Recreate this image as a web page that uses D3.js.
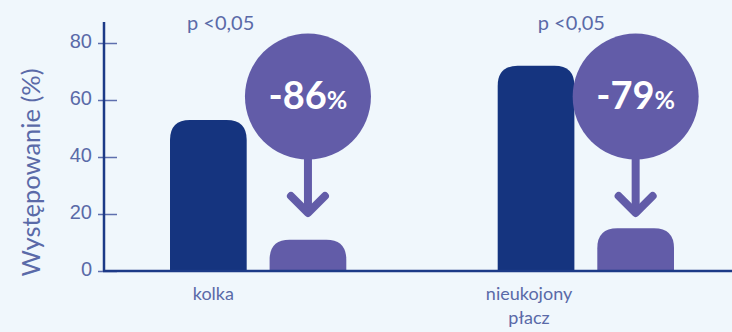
<!DOCTYPE html>
<html>
<head>
<meta charset="utf-8">
<script src="https://cdn.jsdelivr.net/npm/d3@7"></script>
<style>
  html, body { margin: 0; padding: 0; background: #f0f7fc; }
  svg { display: block; font-family: "Lato", "Open Sans", sans-serif; }
</style>
</head>
<body>
<div id="chart"></div>
<script>
// data
const categories = ["kolka", "nieukojony płacz"];
const series = ["przed", "po"];
const beforeValues = [53, 72];
const afterValues = [11, 15];
const reductionLabels = ["-86", "-79"];
const pLabels = ["p <0,05", "p <0,05"];
const yTicks = [0, 20, 40, 60, 80];

const W = 732, H = 332;
const colors = { dark: "#15347f", purple: "#625ca8", axis: "#1c3a87", text: "#5a6aa8", tick: "#5e6fae" };

const svg = d3.select("#chart").append("svg")
    .attr("width", W)
    .attr("height", H);

svg.append("rect").attr("width", W).attr("height", H).attr("fill", "#f0f7fc");

// scales
const y = d3.scaleLinear().domain([0, 80]).range([271, 43]);
const x0 = d3.scaleBand().domain(categories).range([170, 674]).paddingInner(0.462);
const x1 = d3.scaleBand().domain(series).range([0, x0.bandwidth()]).paddingInner(0.23);

// y axis
const yAxis = svg.append("g")
    .attr("transform", "translate(104,0)")
    .call(d3.axisLeft(y).tickValues(yTicks).tickSize(6).tickPadding(6));
yAxis.select(".domain").remove();
yAxis.selectAll(".tick line")
    .attr("x1", -6).attr("x2", 13)
    .attr("stroke", colors.tick).attr("stroke-width", 1.5);
yAxis.selectAll(".tick text")
    .attr("x", -12)
    .attr("dy", "0.2em")
    .attr("fill", colors.text)
    .style("font-size", "20px");

svg.append("line")
    .attr("x1", 104).attr("x2", 104)
    .attr("y1", 22).attr("y2", y(0))
    .attr("stroke", colors.axis).attr("stroke-width", 2.5);

svg.append("text")
    .attr("transform", `translate(40,${(68 + 277) / 2}) rotate(-90)`)
    .attr("text-anchor", "middle")
    .attr("fill", colors.text)
    .style("font-size", "25.5px")
    .text("Występowanie (%)");

// rounded-top bar path
function topRounded(x, yTop, w, h, r) {
    r = Math.min(r, w / 2, h);
    return `M${x},${yTop + h}V${yTop + r}Q${x},${yTop} ${x + r},${yTop}H${x + w - r}Q${x + w},${yTop} ${x + w},${yTop + r}V${yTop + h}Z`;
}

const rows = categories.map((c, i) => ({
    cat: c, before: beforeValues[i], after: afterValues[i],
    red: reductionLabels[i], p: pLabels[i]
}));

const groups = svg.selectAll("g.grp")
    .data(rows)
    .enter().append("g")
    .attr("class", "grp")
    .attr("transform", d => `translate(${x0(d.cat)},0)`);

groups.append("path")
    .attr("d", d => topRounded(x1("przed"), y(d.before), x1.bandwidth(), y(0) - y(d.before), 20))
    .attr("fill", colors.dark);

groups.append("path")
    .attr("d", d => topRounded(x1("po"), y(d.after), x1.bandwidth(), y(0) - y(d.after), 20))
    .attr("fill", colors.purple);

// baseline
svg.append("line")
    .attr("x1", 103).attr("x2", W)
    .attr("y1", y(0)).attr("y2", y(0))
    .attr("stroke", colors.axis).attr("stroke-width", 2.5);

// circle + arrow over the "after" bar
const cx = x1("po") + x1.bandwidth() / 2;
const cy = y(61.2), r = 63;
const tipY = y(19.3);

groups.append("line")
    .attr("x1", cx).attr("x2", cx)
    .attr("y1", cy + r - 2).attr("y2", tipY - 2)
    .attr("stroke", colors.purple).attr("stroke-width", 8);

groups.append("path")
    .attr("d", `M${cx - 17},${tipY - 20}L${cx},${tipY - 3}L${cx + 17},${tipY - 20}`)
    .attr("fill", "none")
    .attr("stroke", colors.purple).attr("stroke-width", 8)
    .attr("stroke-linecap", "round").attr("stroke-linejoin", "round");

groups.append("circle")
    .attr("cx", cx).attr("cy", cy).attr("r", r)
    .attr("fill", colors.purple);

const lbl = groups.append("text")
    .attr("x", cx).attr("y", cy + 12)
    .attr("text-anchor", "middle")
    .attr("fill", "#fff")
    .style("font-weight", "700");
lbl.append("tspan").style("font-size", "38px").text(d => d.red);
lbl.append("tspan").style("font-size", "25px").text("%");

// p-values
groups.append("text")
    .attr("x", (d, i) => i === 0 ? 17 : 40)
    .attr("y", 30)
    .attr("fill", colors.text)
    .style("font-size", "20px")
    .text(d => d.p);

// category labels (wrapped)
groups.append("text")
    .attr("text-anchor", "middle")
    .attr("fill", colors.text)
    .style("font-size", "18px")
    .each(function (d, i) {
        const words = d.cat.split(" ");
        const t = d3.select(this);
        words.forEach((w, k) => {
            t.append("tspan")
                .attr("x", x1("przed") + x1.bandwidth() / 2 + (i === 0 ? 5 : -7))
                .attr("y", 300 + k * 24)
                .text(w);
        });
    });
</script>
</body>
</html>
